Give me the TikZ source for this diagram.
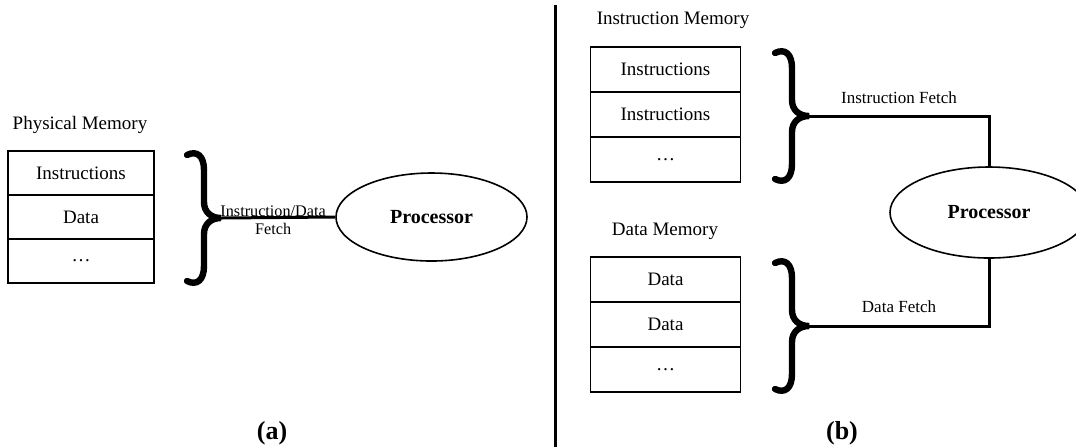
\documentclass[tikz,border=0pt]{standalone}
\usepackage{fontspec}
\setmainfont{Liberation Serif}
\usetikzlibrary{shapes,positioning,calc}

\tikzset{
    cell/.style={draw, line width=0.8pt, minimum width=75pt, minimum height=22.5pt,
        inner sep=0pt, outer sep=0pt},
    cpu/.style={draw, ellipse, line width=0.8pt, inner sep=0pt, font=\bfseries},
    bus/.style={line width=1.5pt},
    buslabel/.style={font=\fontsize{8.5}{9}\selectfont},
    caption/.style={font=\fontsize{13}{15}\selectfont\bfseries},
    pics/fetchbrace/.style={code={
        \draw[line width=3.2pt, line cap=round]
            (2,3) .. controls (12,-2) and (19,4) .. (19,18) -- (19,50)
            .. controls (19,60) and (26,66) .. (36,66)
            .. controls (26,66) and (19,72) .. (19,82) -- (19,114)
            .. controls (19,128) and (12,134) .. (2,129);
        \coordinate (-tip) at (36,66);
    }}
}

\begin{document}
\begin{tikzpicture}[x=0.5pt, y=-0.5pt, font=\fontsize{9.5}{10}\selectfont]
    \useasboundingbox (0,0) rectangle (1076,447);
    \clip (0,0) rectangle (1076,447);

    % (a) one memory for instructions and data
    \node (pmlabel) at (80,125) {Physical Memory};
    \node[cell, minimum width=73pt, minimum height=22pt] (pm1) at (81,173) {Instructions};
    \node[cell, minimum width=73pt, minimum height=22pt, below=0pt of pm1] (pm2) {Data};
    \node[cell, minimum width=73pt, minimum height=22pt, below=0pt of pm2] (pm3) {\dots};
    \pic (pb) at (185,152) {fetchbrace};
    \node[cpu, minimum width=95.5pt, minimum height=44pt] (cpua) at (431.5,217) {Processor};
    \draw[bus] (pb-tip) -- (cpua.west)
        node[midway, xshift=-2.5pt, yshift=-1.5pt, align=center, font=\fontsize{8.1}{9}\selectfont] {Instruction/Data\\Fetch};
    \node[caption] (capa) at (272,433) {(a)};

    \draw[line width=1.5pt] (555,5) -- (555,447);

    % (b) separate instruction and data memories
    \node (imlabel) at (673,20) {Instruction Memory};
    \node[cell] (im1) at (665.5,69.5) {Instructions};
    \node[cell, below=0pt of im1] (im2) {Instructions};
    \node[cell, below=0pt of im2] (im3) {\dots};
    \pic (ib) at (773,50) {fetchbrace};

    \node (dmlabel) at (665,231) {Data Memory};
    \node[cell] (dm1) at (665.5,279.5) {Data};
    \node[cell, below=0pt of dm1] (dm2) {Data};
    \node[cell, below=0pt of dm2] (dm3) {\dots};
    \pic (db) at (773,260) {fetchbrace};

    \node[cpu, minimum width=99pt, minimum height=45.5pt] (cpub) at (989,212.5) {Processor};
    \draw[bus] (ib-tip) -| (cpub.north) node[buslabel, pos=0.25, above=2pt] {Instruction Fetch};
    \draw[bus] (db-tip) -| (cpub.south) node[buslabel, pos=0.25, above=2.5pt] {Data Fetch};
    \node[caption] (capb) at (842,433) {(b)};
\end{tikzpicture}
\end{document}
